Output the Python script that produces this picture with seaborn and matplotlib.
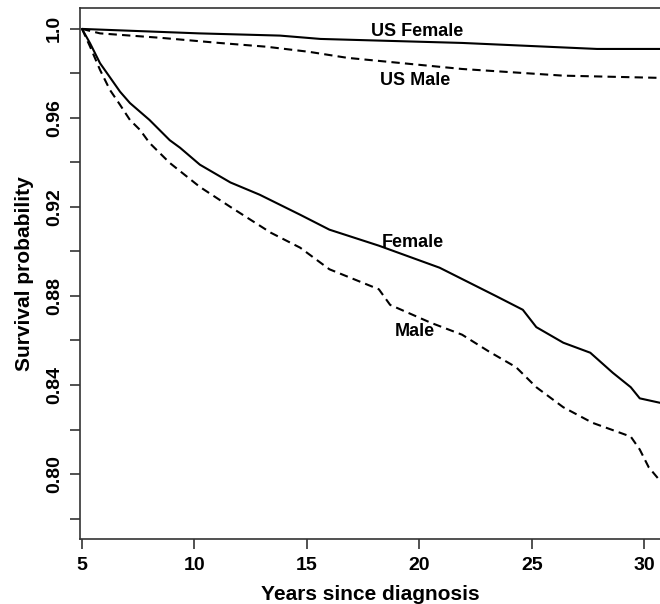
import numpy as np
import pandas as pd
import matplotlib
matplotlib.use("Agg")
import matplotlib.pyplot as plt
import seaborn as sns

# ---- data (years since diagnosis, survival probability) ----
us_female_years = [5.0, 10.2, 13.8, 15.6, 21.9, 27.9, 30.7]
us_female_surv = [1.0, 0.998, 0.997, 0.9955, 0.9937, 0.991, 0.991]

us_male_years = [5.0, 5.8, 8.5, 11.1, 13.2, 15.1, 16.8, 21.9, 26.4, 30.7]
us_male_surv = [1.0, 0.998, 0.996, 0.9937, 0.992, 0.9897, 0.987, 0.982, 0.979, 0.978]

female_years = [5.0, 5.36, 5.8, 6.69, 7.13, 8.0, 8.9, 9.36, 10.24, 11.6, 12.9, 13.8, 14.7,
                16.0, 18.2, 20.9, 23.4, 24.6, 25.2, 26.4, 27.6, 28.6, 29.4, 29.8, 30.7]
female_surv = [1.0, 0.9935, 0.9846, 0.9718, 0.9667, 0.9591, 0.950, 0.9466, 0.939, 0.931,
               0.9255, 0.921, 0.9165, 0.9098, 0.9026, 0.8927, 0.880, 0.8738, 0.866, 0.859,
               0.8545, 0.8455, 0.839, 0.834, 0.832]

male_years = [5.0, 5.36, 5.8, 6.24, 6.69, 7.13, 7.58, 8.0, 8.9, 10.24, 11.6, 12.5, 13.4,
              14.7, 16.0, 18.2, 18.7, 20.5, 21.9, 23.1, 24.3, 25.2, 26.4, 27.7, 28.8,
              29.4, 29.8, 30.2, 30.7]
male_surv = [1.0, 0.992, 0.9816, 0.9726, 0.9659, 0.9591, 0.9546, 0.9488, 0.9398, 0.929,
             0.920, 0.9142, 0.9084, 0.9017, 0.892, 0.883, 0.876, 0.868, 0.8626, 0.855,
             0.848, 0.839, 0.830, 0.823, 0.819, 0.8168, 0.811, 0.803, 0.797]

labels = ["US Female", "US Male", "Female", "Male"]
label_x = [19.9, 19.8, 19.7, 19.8]
label_y = [0.9987, 0.9767, 0.904, 0.864]

x_ticks = [5, 10, 15, 20, 25, 30]
y_ticks = [0.78, 0.80, 0.82, 0.84, 0.86, 0.88, 0.90, 0.92, 0.94, 0.96, 0.98, 1.00]
y_tick_labels = ["", "0.80", "", "0.84", "", "0.88", "", "0.92", "", "0.96", "", "1.0"]

# ===========================================
# Plot
# ===========================================
sns.set_style("ticks")
plt.rcParams["font.family"] = ["Liberation Sans", "DejaVu Sans"]
plt.rcParams["font.weight"] = "bold"
plt.rcParams["text.color"] = "black"
plt.rcParams["axes.labelcolor"] = "black"
plt.rcParams["xtick.color"] = "black"
plt.rcParams["ytick.color"] = "black"

fig = plt.figure(figsize=(6.6, 6.04), dpi=100)
ax = fig.add_axes([80 / 660, 65 / 604, 580 / 660, 531 / 604])

series = [
    (us_female_years, us_female_surv, "-"),
    (us_male_years, us_male_surv, "--"),
    (female_years, female_surv, "-"),
    (male_years, male_surv, "--"),
]
for xs, ys, ls in series:
    df = pd.DataFrame({"year": xs, "surv": ys})
    sns.lineplot(data=df, x="year", y="surv", ax=ax, color="black", linewidth=1.5,
                 sort=False, estimator=None)
    line = ax.lines[-1]
    if ls == "--":
        line.set_dashes((4, 2.5))

for txt, tx, ty in zip(labels, label_x, label_y):
    ax.text(tx, ty, txt, ha="center", va="center", fontsize=13, fontweight="bold",
            color="black")

ax.set_xlim(4.91, 30.7)
ax.set_ylim(0.7708, 1.0094)
ax.set_xticks(x_ticks)
ax.set_xticklabels([str(t) for t in x_ticks], fontsize=14, fontweight="bold")
ax.set_yticks(y_ticks)
ax.set_yticklabels(y_tick_labels, fontsize=14, fontweight="bold", rotation=90, va="center")
ax.tick_params(axis="both", direction="out", length=7.2, width=1.2, color="#333333")
ax.tick_params(axis="x", pad=6)
ax.tick_params(axis="y", pad=5)

ax.set_xlabel("Years since diagnosis", fontsize=15, fontweight="bold")
ax.set_ylabel("Survival probability", fontsize=15, fontweight="bold")
ax.xaxis.set_label_coords(0.5, -0.086)
ax.yaxis.set_label_coords(-0.08, 0.5)

for side in ["left", "bottom", "top"]:
    ax.spines[side].set_visible(True)
    ax.spines[side].set_linewidth(1.2)
    ax.spines[side].set_color("#333333")
ax.spines["right"].set_visible(False)

fig.savefig("out.png", dpi=100)
